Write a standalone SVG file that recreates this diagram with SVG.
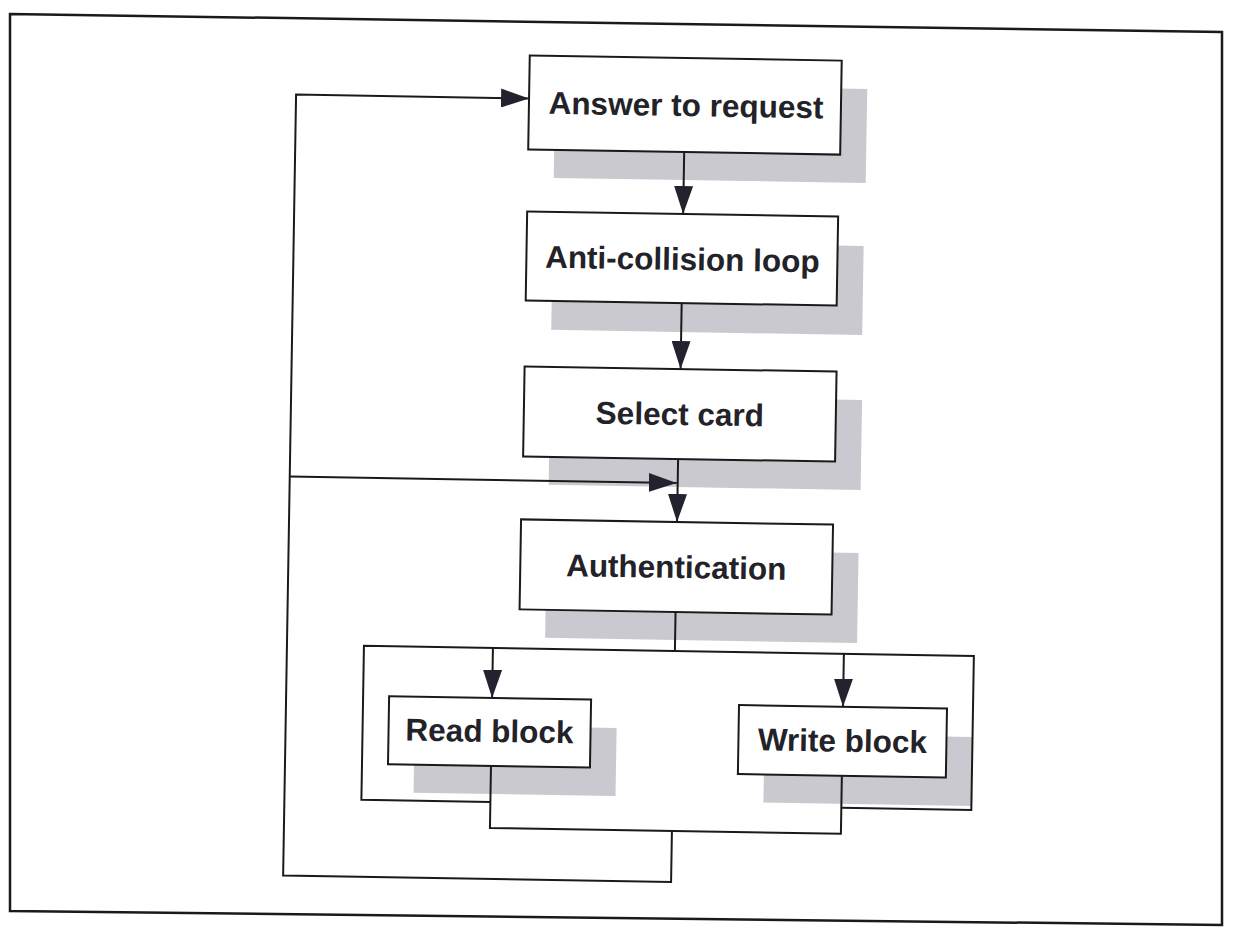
<svg xmlns="http://www.w3.org/2000/svg" width="1238" height="928" viewBox="0 0 1238 928">
<style>
.box{fill:#ffffff;stroke:#1a1a1a;stroke-width:2}
.shadow{fill:#c9c9cf}
.lbl{font-family:"Liberation Sans",Arial,sans-serif;font-weight:bold;font-size:31.5px;fill:#222228;text-anchor:middle}
.ln{fill:none;stroke:#1a1a1a;stroke-width:2}
.arr{marker-end:url(#ah)}
</style>
<defs>
<marker id="ah" viewBox="0 0 28 19" refX="28" refY="9.5" markerWidth="28" markerHeight="19" markerUnits="userSpaceOnUse" orient="auto">
<path d="M0,0 L28,9.5 L0,19 z" fill="#23232f"/>
</marker>
</defs>
<rect width="1238" height="928" fill="#ffffff"/>
<polygon id="frame" points="10,14 1222,32 1222,925 10,911" fill="none" stroke="#1a1a1a" stroke-width="2.5"/>
<g transform="rotate(0.95 619 464)">
<g id="n-answer">
<rect class="shadow" x="549" y="85" width="312" height="94"/>
<rect class="box" x="523" y="57" width="312" height="94"/>
<text class="lbl" x="680" y="115">Answer to request</text>
</g>
<g id="n-anticollision">
<rect class="shadow" x="549" y="242" width="311" height="89"/>
<rect class="box" x="523" y="213" width="311" height="89"/>
<text class="lbl" x="679" y="269">Anti-collision loop</text>
</g>
<g id="n-select">
<rect class="shadow" x="549" y="396" width="312" height="90"/>
<rect class="box" x="523" y="368" width="312" height="90"/>
<text class="lbl" x="679" y="424">Select card</text>
</g>
<g id="n-auth">
<rect class="shadow" x="548" y="549" width="312" height="90"/>
<rect class="box" x="522" y="521" width="312" height="90"/>
<text class="lbl" x="678" y="577">Authentication</text>
</g>
<g id="n-read">
<rect class="shadow" x="419" y="728" width="202" height="68"/>
<rect class="box" x="393" y="700" width="202" height="68"/>
<text class="lbl" x="494" y="744">Read block</text>
</g>
<g id="n-write">
<rect class="shadow" x="769" y="731" width="208" height="69"/>
<rect class="box" x="743" y="703" width="208" height="69"/>
<text class="lbl" x="847" y="748">Write block</text>
</g>
<g id="connectors">
<path class="ln arr" d="M679,151 V213"/>
<path class="ln arr" d="M679,302 V368"/>
<path class="ln arr" d="M678,458 V521"/>
<path class="ln arr" d="M678,830 V881 H290 V100 H523"/>
<path class="ln arr" d="M290,482 H677"/>
<path class="ln" d="M678,611 V650"/>
<path class="ln" d="M496,804 H367 V650 H977 V804 H847"/>
<path class="ln arr" d="M496,650 V700"/>
<path class="ln arr" d="M847,650 V703"/>
<path class="ln" d="M496,768 V830 H847 V772"/>
</g>
</g>
</svg>
